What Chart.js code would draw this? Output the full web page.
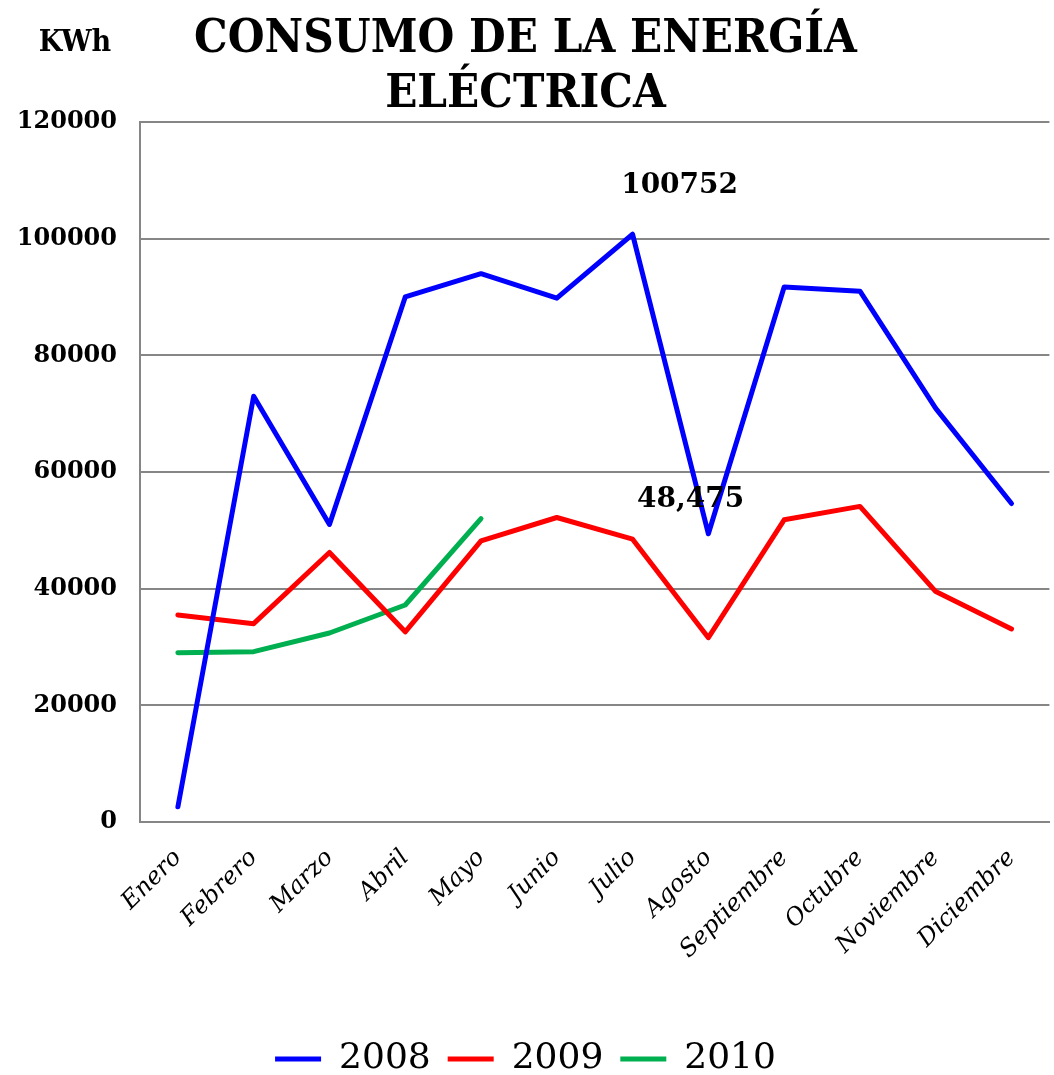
<!DOCTYPE html>
<html>
<head>
<meta charset="utf-8">
<script src="https://cdn.jsdelivr.net/npm/chart.js@4.4.1/dist/chart.umd.min.js"></script>
<style>
html,body{margin:0;padding:0;background:#fff;}
canvas{display:block;}
</style>
</head>
<body>
<canvas id="c" width="1054" height="1075"></canvas>
<script>
const categories = ['Enero','Febrero','Marzo','Abril','Mayo','Junio','Julio','Agosto','Septiembre','Octubre','Noviembre','Diciembre'];
const series2008 = [2600, 73000, 51000, 90000, 94000, 89800, 100752, 49400, 91700, 91000, 70900, 54600];
const series2009 = [35500, 34000, 46200, 32600, 48200, 52200, 48475, 31600, 51800, 54100, 39500, 33100];
const series2010 = [29000, 29200, 32400, 37200, 52000];
const yTicks = [0, 20000, 40000, 60000, 80000, 100000, 120000];
const titleLines = ['CONSUMO DE LA ENERGÍA', 'ELÉCTRICA'];
const unitLabel = 'KWh';
const pointLabels = [
  {dataset: 0, index: 6, text: '100752', dx: 47, dy: -49},
  {dataset: 1, index: 6, text: '48,475', dx: 58, dy: -40}
];

const SERIF = "'DejaVu Serif', 'Liberation Serif', serif";
const COND = "'DejaVu Serif Condensed', 'DejaVu Serif', serif";

const extraText = {
  id: 'extraText',
  afterDatasetsDraw(chart) {
    const ctx = chart.ctx;
    ctx.save();
    ctx.fillStyle = '#000';
    ctx.textAlign = 'center';
    ctx.textBaseline = 'middle';
    ctx.font = "bold 28px " + SERIF;
    pointLabels.forEach(p => {
      const el = chart.getDatasetMeta(p.dataset).data[p.index];
      ctx.fillText(p.text, el.x + p.dx, el.y + p.dy);
    });
    ctx.font = "bold 30px " + COND;
    ctx.fillText(unitLabel, 75, 43);
    ctx.restore();
  }
};

new Chart(document.getElementById('c'), {
  type: 'line',
  data: {
    labels: categories,
    datasets: [
      {label: '2008', data: series2008, borderColor: '#0000FF', backgroundColor: '#0000FF'},
      {label: '2009', data: series2009, borderColor: '#FF0000', backgroundColor: '#FF0000'},
      {label: '2010', data: series2010, borderColor: '#00B050', backgroundColor: '#00B050'}
    ].map(d => Object.assign(d, {borderWidth: 5, pointRadius: 0, pointHoverRadius: 0, tension: 0, fill: false, borderCapStyle: 'round', borderJoinStyle: 'round'}))
  },
  options: {
    responsive: false,
    devicePixelRatio: 1,
    animation: false,
    layout: {padding: {left: 0, right: 3, top: 0, bottom: -12}},
    plugins: {
      title: {
        display: true,
        text: titleLines,
        color: '#000',
        font: {family: COND, size: 47, weight: 'bold', lineHeight: 1.17},
        padding: {top: 12, bottom: 0}
      },
      legend: {
        position: 'bottom',
        labels: {
          usePointStyle: true,
          pointStyle: 'line',
          pointStyleWidth: 46,
          color: '#000',
          font: {family: SERIF, size: 36},
          padding: 17
        }
      },
      tooltip: {enabled: false}
    },
    scales: {
      x: {
        offset: true,
        grid: {display: false, drawTicks: false},
        border: {display: true, color: '#868686', width: 2},
        ticks: {
          color: '#000',
          font: {family: SERIF, size: 24, style: 'italic'},
          minRotation: 45,
          maxRotation: 45,
          padding: 22,
          autoSkip: false
        },
        afterFit(scale) { scale.height = 202; }
      },
      y: {
        min: 0,
        max: 120000,
        afterBuildTicks(scale) { scale.ticks = yTicks.map(v => ({value: v})); },
        grid: {color: '#868686', lineWidth: 2, drawTicks: false},
        border: {display: true, color: '#868686', width: 2},
        ticks: {
          color: '#000',
          font: {family: SERIF, size: 24, weight: 'bold'},
          padding: 23,
          callback: v => String(v)
        },
        afterFit(scale) { scale.width = 140; }
      }
    }
  },
  plugins: [extraText]
});
</script>
</body>
</html>
